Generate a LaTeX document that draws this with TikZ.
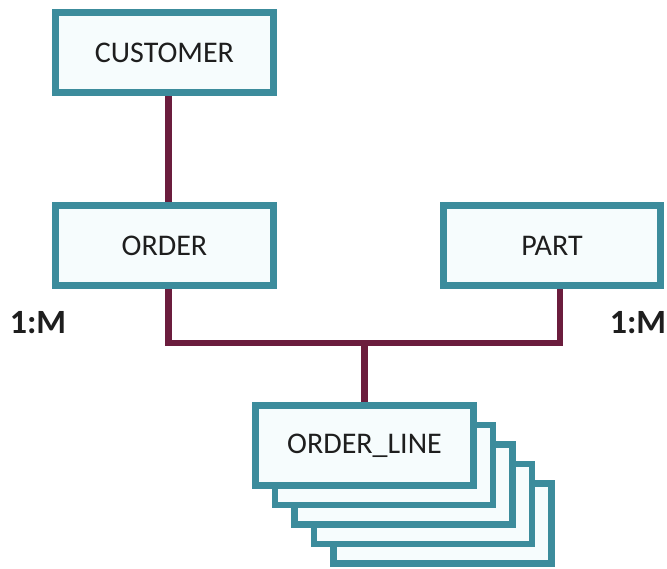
\documentclass[tikz,border=0pt]{standalone}
\usepackage{fontspec}
\setmainfont{Carlito}
\usepackage{tikz}
\usetikzlibrary{positioning,calc}
\definecolor{boxteal} {HTML}{3C8C9C}
\definecolor{boxfill} {HTML}{F6FCFD}
\definecolor{relred}  {HTML}{6B1D3D}
\definecolor{ink}     {HTML}{1E1E1E}
\tikzset{
  entbox/.style  ={draw=boxteal, fill=boxfill, line width=7pt,
                   minimum width=218pt, minimum height=80pt,
                   align=center, text=ink, inner sep=4pt,
                   font=\fontsize{30}{36}\selectfont},
  stackbox/.style={draw=boxteal, fill=boxfill, line width=6.5pt,
                   minimum width=218pt, minimum height=80pt},
  relline/.style ={draw=relred, line width=6.5pt},
  cardlbl/.style ={text=ink, inner sep=0pt,
                   font=\fontsize{34}{40}\selectfont\bfseries},
}

\begin{document}
\begin{tikzpicture}[x=1pt,y=1pt]
        \useasboundingbox (0,0) rectangle (667,569);

        \node[entbox] (cust) at (164.5,516) {CUSTOMER};
        \node[entbox] (ord)  at (164.5,323) {ORDER};
        \node[entbox,minimum width=217pt] (prt) at (552,323) {PART};

        % stacked ORDER_LINE occurrences, back to front
        \foreach \i in {4,3,2,1}
          \node[stackbox] (ordl\i) at ({364.5+19.5*\i},{123.5-19.5*\i}) {};
        \node[entbox] (ordl) at (364.5,123.5) {ORDER\_LINE};

        \node[cardlbl] (lblL) at (38,246) {1:M};
        \node[cardlbl] (lblR) at (638,246) {1:M};

        \coordinate (jn) at (ordl.north |- 0,226);
        \draw[relline] ([xshift=4pt]cust.south) -- ([xshift=4pt]ord.north);
        \draw[relline] ([xshift=4pt]ord.south) |- (jn) -| ([xshift=8pt]prt.south);
        \draw[relline] (jn) -- (ordl.north);
      \end{tikzpicture}
\end{document}
